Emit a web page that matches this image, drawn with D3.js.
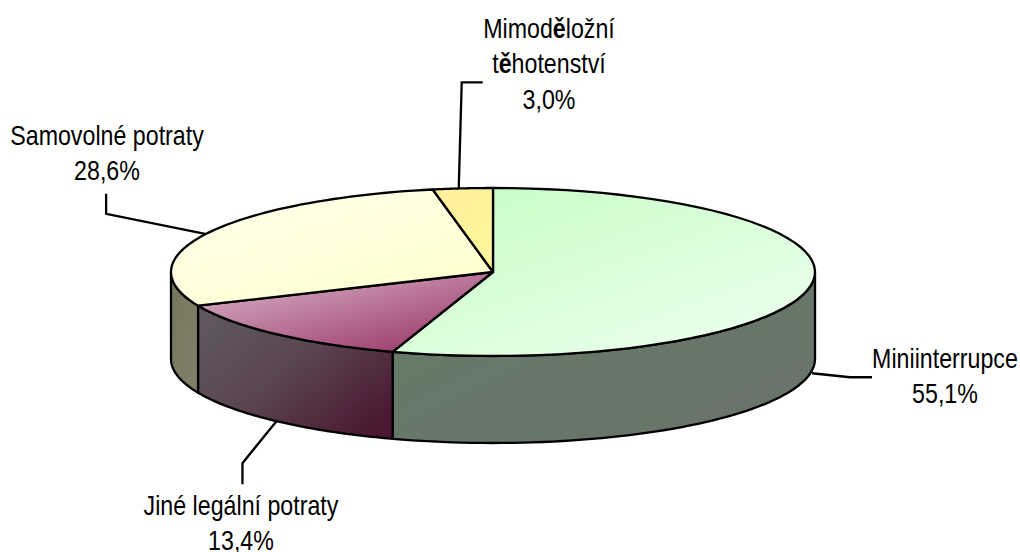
<!DOCTYPE html>
<html>
<head>
<meta charset="utf-8">
<script src="https://cdn.jsdelivr.net/npm/d3@7"></script>
<style>
	html, body { margin: 0; padding: 0; background: #fff; }
	text { font-family: "Liberation Sans", sans-serif; font-size: 27px; fill: #000; }
</style>
</head>
<body>
<svg id="chart" width="1020" height="552"></svg>
<script>
var categories = ['Miniinterrupce', 'Jiné legální potraty', 'Samovolné potraty', 'Mimoděložní těhotenství'];
var shares = [55.1, 13.4, 28.6, 3.0];
var valueLabels = ['55,1%', '13,4%', '28,6%', '3,0%'];
var labelLines = [['Miniinterrupce'], ['Jiné legální potraty'], ['Samovolné potraty'], ['Mimoděložní', 'těhotenství']];

var topColors = [['#c4fdc4', '#eeffee'], ['#dcbccf', '#993366'], ['#ffffee', '#ffffcc'], ['#ffee9c', '#fff79a']];
var sideColors = [['#647c66', '#69736a'], ['#615a60', '#5a4650', '#4b1832'], ['#76765e', '#80806a'], ['#777', '#777']];

var cx = 493, cy = 272, rx = 322, ry = 84, depth = 87;

var svg = d3.select('#chart');
var defs = svg.append('defs');

function addGradient(id, colors, x2, y2) {
	var g = defs.append('linearGradient').attr('id', id)
		.attr('x1', 0).attr('y1', 0).attr('x2', x2).attr('y2', y2);
	colors.forEach(function(c, k) {
		g.append('stop').attr('offset', k / (colors.length - 1)).attr('stop-color', c);
	});
}
topColors.forEach(function(c, i) { addGradient('top' + i, c, 0.9, 1); });
sideColors.forEach(function(c, i) { addGradient('side' + i, c, 1, 0.8); });

var arcs = d3.pie().sort(null).value(function(d) { return d; })(shares);

function px(a) { return cx + rx * Math.sin(a); }
function py(a) { return cy - ry * Math.cos(a); }

// front wall only shows between 90 and 270 degrees
var frontFrom = Math.PI / 2, frontTo = Math.PI * 1.5;
var wall = svg.append('g');
arcs.forEach(function(d, i) {
	var a0 = Math.max(d.startAngle, frontFrom), a1 = Math.min(d.endAngle, frontTo);
	if (a1 <= a0) return;
	var p = d3.path();
	var n = 60;
	d3.range(n + 1).forEach(function(k) {
		var a = a0 + (a1 - a0) * k / n;
		if (k === 0) p.moveTo(px(a), py(a)); else p.lineTo(px(a), py(a));
	});
	d3.range(n + 1).forEach(function(k) {
		var a = a1 - (a1 - a0) * k / n;
		p.lineTo(px(a), py(a) + depth);
	});
	p.closePath();
	wall.append('path')
		.attr('d', p.toString())
		.attr('fill', 'url(#side' + i + ')')
		.attr('stroke', '#000').attr('stroke-width', 2.3).attr('stroke-linejoin', 'round');
});

var lid = svg.append('g');
arcs.forEach(function(d, i) {
	var p = d3.path();
	p.moveTo(cx, cy);
	d3.range(61).forEach(function(k) {
		var a = d.startAngle + (d.endAngle - d.startAngle) * k / 60;
		p.lineTo(px(a), py(a));
	});
	p.closePath();
	lid.append('path')
		.attr('d', p.toString())
		.attr('fill', 'url(#top' + i + ')')
		.attr('stroke', '#000').attr('stroke-width', 2.3).attr('stroke-linejoin', 'round');
});

// leader lines start at the slice's mid angle, then offsets to the elbow and label end
var leaderStart = [[1, 1], [0, 0], [-3, 1], [-4, 0]];
var leaderOffsets = [
	[[39, 5], [61, 5]],
	[[-34, 42], [-34, 63]],
	[[-102, -19], [-102, -39]],
	[[-1, -106], [20, -106]]
];
var labelPos = [[945, 368], [241, 515], [107, 145], [549, 38]];
var leaders = svg.append('g');
arcs.forEach(function(d, i) {
	var mid = (d.startAngle + d.endAngle) / 2;
	var x0 = px(mid), y0 = py(mid) + (Math.cos(mid) < 0 ? depth : 0);
	var pts = [[x0 + leaderStart[i][0], y0 + leaderStart[i][1]]]
		.concat(leaderOffsets[i].map(function(o) { return [x0 + o[0], y0 + o[1]]; }));
	leaders.append('path')
		.attr('d', d3.line()(pts))
		.attr('fill', 'none').attr('stroke', '#000').attr('stroke-width', 2.3);
});

// no narrow font installed, so squeeze the sans horizontally
var squeeze = 0.86;
var lineHeight = 35.5;
arcs.forEach(function(d, i) {
	var t = svg.append('text')
		.attr('text-anchor', 'middle')
		.attr('transform', 'translate(' + labelPos[i][0] + ',' + labelPos[i][1] + ') scale(' + squeeze + ',1)');
	labelLines[i].concat([valueLabels[i]]).forEach(function(line, k) {
		var ts = t.append('tspan').attr('x', 0).attr('dy', k ? lineHeight : 0);
		line.split(/(ě)/).forEach(function(part) {
			if (!part) return;
			ts.append('tspan').attr('font-weight', part === 'ě' ? 'bold' : null).text(part);
		});
	});
});
</script>
</body>
</html>
